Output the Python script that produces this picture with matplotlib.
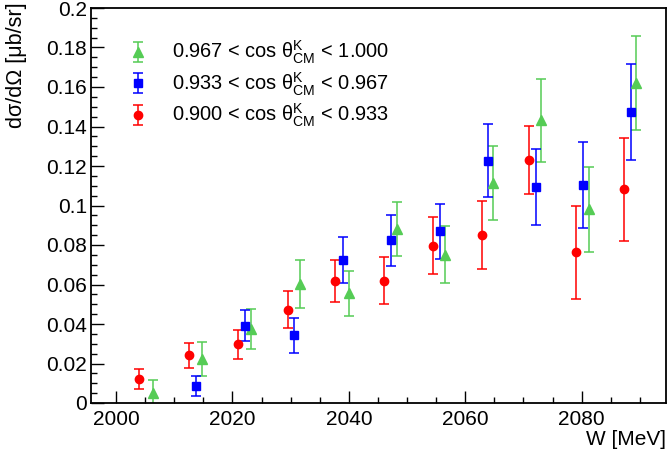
import matplotlib
matplotlib.use("Agg")
import matplotlib.pyplot as plt
from matplotlib.ticker import MultipleLocator, FixedLocator, FuncFormatter

plt.rcParams['font.family'] = ['Liberation Sans', 'DejaVu Sans']
plt.rcParams['mathtext.fontset'] = 'custom'
plt.rcParams['mathtext.rm'] = 'Liberation Sans'
plt.rcParams['mathtext.it'] = 'Liberation Sans'
plt.rcParams['mathtext.bf'] = 'Liberation Sans:bold'

# ---- data ----
red_w = [2004.0, 2012.5, 2021.0, 2029.5, 2037.7, 2046.0, 2054.4, 2062.8, 2071.0, 2079.0, 2087.2]
red_y = [0.0122, 0.0241, 0.0297, 0.0473, 0.0619, 0.0619, 0.0797, 0.0849, 0.1229, 0.0763, 0.1082]
red_e = [0.0050, 0.0062, 0.0073, 0.0092, 0.0106, 0.0118, 0.0143, 0.0173, 0.0172, 0.0235, 0.0260]

blue_w = [2013.7, 2022.2, 2030.6, 2039.0, 2047.3, 2055.6, 2063.9, 2072.1, 2080.3, 2088.5]
blue_y = [0.0085, 0.0392, 0.0343, 0.0724, 0.0824, 0.0869, 0.1227, 0.1094, 0.1104, 0.1472]
blue_e = [0.0050, 0.0080, 0.0088, 0.0114, 0.0130, 0.0140, 0.0186, 0.0193, 0.0218, 0.0244]

green_w = [2006.3, 2014.8, 2023.2, 2031.6, 2040.0, 2048.3, 2056.6, 2064.8, 2073.0, 2081.2, 2089.4]
green_y = [0.0049, 0.0223, 0.0375, 0.0603, 0.0555, 0.0879, 0.0751, 0.1114, 0.1431, 0.0981, 0.1620]
green_e = [0.0066, 0.0085, 0.0100, 0.0122, 0.0115, 0.0137, 0.0145, 0.0187, 0.0209, 0.0216, 0.0240]

labels = [r'0.967 < cos $\mathrm{θ}^{\mathrm{K}}_{\mathrm{CM}}$ < 1.000',
          r'0.933 < cos $\mathrm{θ}^{\mathrm{K}}_{\mathrm{CM}}$ < 0.967',
          r'0.900 < cos $\mathrm{θ}^{\mathrm{K}}_{\mathrm{CM}}$ < 0.933']

xlabel = 'W [MeV]'
ylabel = 'dσ/dΩ [μb/sr]'
xticks = [2000, 2020, 2040, 2060, 2080]

RED = '#ff0000'
BLUE = '#0000ff'
GREEN = '#55cc55'

fig = plt.figure(figsize=(6.69, 4.57), dpi=100)
ax = fig.add_axes([91/669, 1 - 403/457, (666-91)/669, (403-8)/457])

eb_kw = dict(linestyle='none', elinewidth=1.1, capsize=3.5, capthick=1.1)
h_g = ax.errorbar(green_w, green_y, yerr=green_e, fmt='^', color=GREEN, ms=6.5, mec=GREEN, **eb_kw)
h_b = ax.errorbar(blue_w, blue_y, yerr=blue_e, fmt='s', color=BLUE, ms=5.4, mec=BLUE, **eb_kw)
h_r = ax.errorbar(red_w, red_y, yerr=red_e, fmt='o', color=RED, ms=6.0, mec=RED, **eb_kw)

ax.set_xlim(1995.7, 2094.5)
ax.set_ylim(0, 0.2)

ax.xaxis.set_major_locator(FixedLocator(xticks))
ax.xaxis.set_minor_locator(MultipleLocator(5))
ax.yaxis.set_major_locator(MultipleLocator(0.02))
ax.yaxis.set_minor_locator(MultipleLocator(0.005))
ax.yaxis.set_major_formatter(FuncFormatter(lambda v, p: ('%.2f' % v).rstrip('0').rstrip('.') if abs(v) > 1e-9 else '0'))

ax.tick_params(which='both', direction='in', top=False, right=False, labelsize=15, width=1)
ax.tick_params(which='major', length=9)
ax.tick_params(which='minor', length=4.5)
ax.tick_params(axis='x', pad=5)
ax.tick_params(axis='y', pad=3)
for s in ax.spines.values():
    s.set_linewidth(1.3)

ax.set_xlabel(xlabel, fontsize=15, loc='right', labelpad=1)
ax.set_ylabel(ylabel, fontsize=15.5, loc='top')
ax.yaxis.set_label_coords(-0.111, 1.013)

leg = ax.legend([h_g, h_b, h_r], labels, loc='upper left',
                bbox_to_anchor=(124/669, 1 - 39/457), bbox_transform=fig.transFigure,
                frameon=False, fontsize=14.4, handlelength=1.4, handletextpad=1.0,
                labelspacing=0.2, borderpad=0, borderaxespad=0)

fig.savefig('out.png', dpi=100)
